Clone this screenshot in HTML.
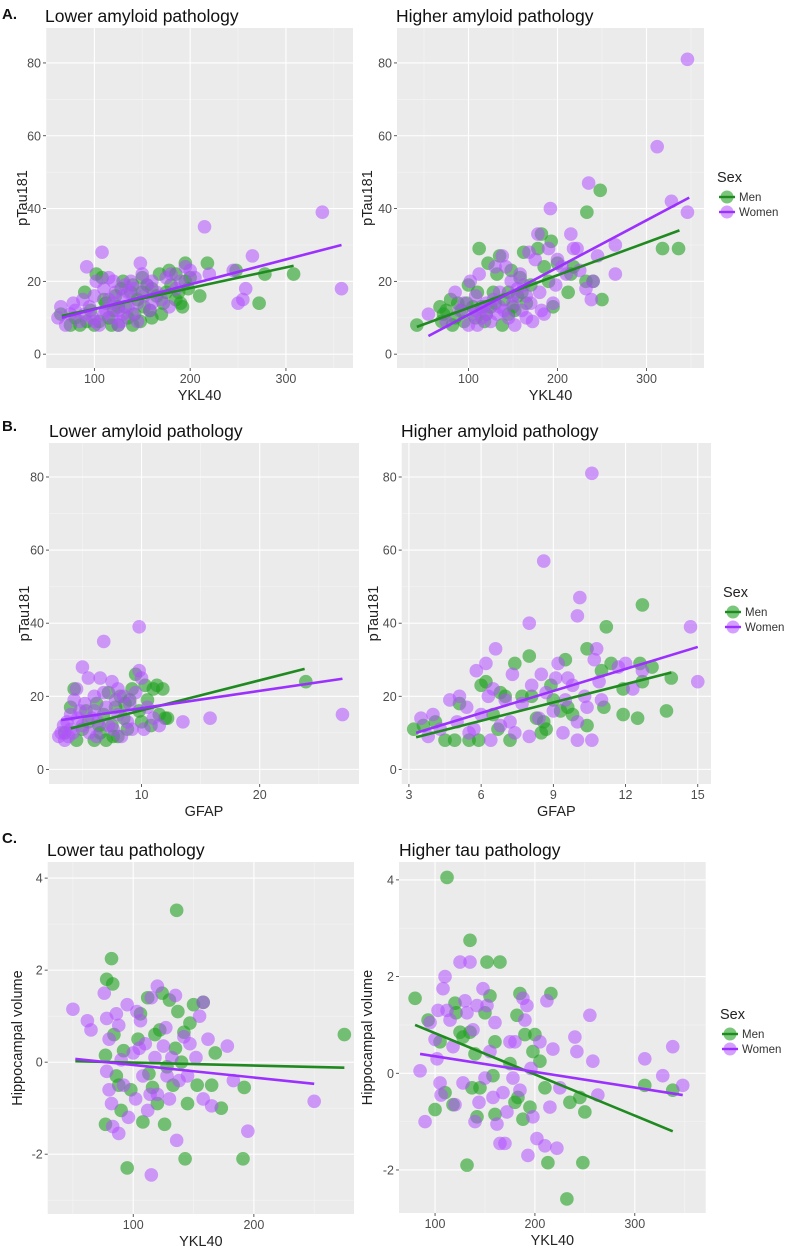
<!DOCTYPE html>
<html><head><meta charset="utf-8"><style>
html,body{margin:0;padding:0;background:#fff;}
svg{display:block;font-family:"Liberation Sans",Arial,sans-serif;}
</style></head><body>
<svg id="fig" width="789" height="1250" viewBox="0 0 789 1250" xmlns="http://www.w3.org/2000/svg">
<text x="2" y="19" font-size="15" font-weight="bold" fill="#111">A.</text>
<text x="2" y="431" font-size="15" font-weight="bold" fill="#111">B.</text>
<text x="2" y="843" font-size="15" font-weight="bold" fill="#111">C.</text>
</svg>
<script>
// ---------- DATA ----------
const a1Men=[[65,11],[75,8],[80,10],[85,8],[90,17],[92,9],[96,12],[100,8],[102,22],[105,9],[108,21],[112,14],[115,10],[118,8],[120,12],[122,16],[125,8],[128,18],[130,20],[132,13],[135,10],[138,17],[140,8],[142,11],[145,15],[148,9],[150,21],[152,13],[155,19],[158,12],[160,10],[165,16],[168,22],[170,11],[172,14],[175,17],[178,23],[180,19],[185,15],[188,17],[190,14],[192,13],[195,25],[198,18],[200,21],[210,16],[218,25],[248,23],[272,14],[278,22],[308,22],[110,15],[125,13],[140,19],[150,17],[160,18],[185,22],[195,20]];
const a1Women=[[62,10],[65,13],[70,8],[75,11],[78,14],[80,12],[85,9],[88,15],[92,24],[95,13],[98,10],[100,16],[102,20],[105,8],[108,28],[110,18],[112,12],[115,15],[118,10],[120,14],[122,17],[125,12],[128,9],[130,16],[132,19],[135,13],[138,20],[140,11],[142,18],[145,14],[148,25],[150,22],[152,16],[155,19],[158,12],[160,20],[165,17],[170,15],[175,21],[180,22],[185,18],[190,20],[195,24],[200,23],[205,21],[215,35],[220,22],[245,23],[250,14],[255,15],[258,18],[265,27],[338,39],[358,18],[110,11],[100,9],[90,11],[130,11],[145,9],[120,20],[135,17],[160,14],[178,13],[125,8],[115,21]];
const a1FitMen=[[66,10.5],[308,24.3]];
const a1FitWomen=[[66,10],[358,30]];

const a2Men=[[42,8],[68,13],[70,9],[72,11],[75,12],[80,15],[82,8],[85,10],[88,14],[92,12],[95,9],[98,14],[100,19],[105,13],[108,10],[110,17],[112,29],[115,13],[118,9],[120,11],[122,25],[125,13],[130,14],[132,22],[135,27],[138,8],[140,15],[145,17],[148,23],[150,13],[152,12],[155,16],[158,21],[160,17],[162,28],[165,14],[170,19],[178,29],[182,33],[185,24],[190,20],[193,31],[195,13],[200,25],[212,17],[215,22],[218,24],[232,20],[233,39],[240,20],[248,45],[250,15],[318,29],[336,29],[128,17],[145,11]];
const a2Women=[[55,11],[75,9],[85,17],[90,12],[95,14],[100,8],[102,20],[105,11],[108,16],[110,8],[112,22],[115,10],[118,13],[120,14],[125,9],[128,15],[130,24],[132,11],[135,17],[138,27],[140,12],[142,24],[145,10],[148,20],[150,14],[152,8],[155,18],[158,22],[160,12],[162,19],[165,16],[168,28],[170,14],[175,26],[178,33],[180,17],[182,12],[185,11],[190,29],[192,40],[195,14],[198,19],[200,26],[205,24],[210,22],[215,33],[218,29],[222,29],[225,23],[232,18],[235,47],[238,15],[240,20],[245,27],[265,30],[265,22],[312,57],[328,42],[346,39],[346,81],[120,11],[135,13],[150,16],[165,10],[172,9],[108,12]];
const a2FitMen=[[42,7.5],[337,34]];
const a2FitWomen=[[55,5],[348,43]];

const b1Men=[[3.5,10],[4,17],[4.3,22],[4.5,8],[5,11],[5.3,16],[5.5,13],[6,8],[6.2,18],[6.5,10],[6.8,15],[7,8],[7.2,21],[7.5,12],[7.8,17],[8,9],[8.2,20],[8.5,14],[8.8,11],[9,19],[9.2,22],[9.5,26],[9.8,16],[10,13],[10.3,23],[10.5,19],[10.8,12],[11,22],[11.3,23],[11.5,15],[11.8,22],[12,14],[12.2,14],[23.9,24],[6.4,12],[7.6,9],[8.6,18]];
const b1Women=[[3,9],[3.2,10],[3.4,12],[3.5,8],[3.7,13],[3.8,9],[4,15],[4,11],[4.2,10],[4.5,22],[4.6,14],[4.8,16],[5,28],[5,12],[5.2,18],[5.5,25],[5.6,10],[5.8,14],[6,20],[6,16],[6.3,13],[6.5,25],[6.8,35],[6.8,21],[7,17],[7.2,12],[7.5,24],[7.8,19],[8,15],[8,22],[8.3,9],[8.5,20],[8.8,13],[9,18],[9.2,11],[9.5,21],[9.8,27],[9.8,39],[10,25],[10.2,11],[10.5,17],[11,14],[11.5,12],[13.5,13],[15.8,14],[27,15],[4.3,19],[6.2,9],[7.6,11]];
const b1FitMen=[[4,11.2],[23.8,27.5]];
const b1FitWomen=[[3.2,13.5],[27,24.8]];

const b2Men=[[3.2,11],[3.6,12],[4.1,13],[4.5,8],[4.9,8],[5.1,18],[5.5,8],[5.9,8],[6,23],[6.2,24],[6.5,15],[6.8,21],[7,20],[7.2,8],[7.4,29],[7.7,20],[8,31],[8.1,20],[8.3,14],[8.5,10],[8.6,13],[8.7,11],[8.9,23],[9,19],[9.5,30],[9.6,17],[9.8,15],[10.4,33],[10.4,12],[11,27],[11.1,17],[11.2,39],[11.4,29],[11.9,15],[11.9,22],[12.5,14],[12.6,29],[12.7,45],[12.7,24],[13.1,28],[13.7,16],[13.9,25],[6.7,11],[9.3,16]];
const b2Women=[[3.5,14],[3.8,9],[4,15],[4.3,11],[4.7,19],[5,13],[5.1,20],[5.4,17],[5.5,10],[5.8,27],[6,15],[6.2,29],[6.3,20],[6.4,8],[6.5,22],[6.6,33],[6.8,12],[7,19],[7.3,26],[7.4,10],[7.7,18],[8,40],[8,9],[8.1,23],[8.4,14],[8.5,26],[8.6,57],[8.7,21],[9,16],[9.1,25],[9.2,29],[9.4,10],[9.5,19],[9.6,25],[9.8,23],[10,13],[10,42],[10.1,47],[10.3,20],[10.4,17],[10.6,81],[10.6,8],[10.7,30],[10.8,33],[10.9,24],[11,19],[11.7,28],[12,29],[12.3,22],[12.7,27],[14.7,39],[15,24],[10,8],[7.2,13],[5.7,11]];
const b2FitMen=[[3.3,8.8],[13.9,26.5]];
const b2FitWomen=[[3.3,10],[15,33.5]];

const c1Men=[[77,-1.35],[77,0.15],[78,1.8],[82,2.25],[83,1.7],[84,0.6],[86,-0.3],[88,-0.5],[90,-1.05],[92,0.25],[95,-2.3],[98,-0.6],[104,0.5],[106,1.05],[108,-1.3],[112,1.4],[113,-0.25],[116,-0.55],[118,0.6],[120,-0.9],[122,0.7],[124,1.5],[126,-1.35],[128,-0.1],[130,1.35],[133,-0.5],[135,0.3],[136,3.3],[137,1.1],[140,0],[142,0.65],[143,-2.1],[145,-0.9],[147,0.85],[150,1.25],[153,-0.5],[158,1.3],[165,-0.5],[168,0.2],[173,-1.0],[191,-2.1],[192,-0.55],[275,0.6]];
const c1Women=[[50,1.15],[62,0.9],[65,0.7],[76,1.5],[78,0.95],[78,-0.2],[80,0.5],[80,-0.6],[82,-0.9],[83,-1.4],[86,1.05],[88,0.8],[88,-1.55],[90,0.05],[92,-0.5],[95,1.25],[96,-1.2],[100,0.2],[102,-0.8],[103,1.1],[105,0.3],[106,0.9],[108,-0.3],[110,0.4],[112,-1.05],[114,-0.7],[115,1.4],[115,-2.45],[118,0.1],[120,1.65],[120,-0.7],[125,0.35],[127,0.75],[128,-0.3],[130,-0.8],[132,0.1],[135,1.45],[136,-1.7],[138,-0.4],[142,0.55],[145,-0.3],[147,0.4],[152,0.1],[155,1.0],[158,1.3],[158,-0.8],[162,0.5],[165,-0.95],[178,0.35],[183,-0.4],[195,-1.5],[250,-0.85]];
const c1FitMen=[[52,0.02],[275,-0.12]];
const c1FitWomen=[[52,0.07],[250,-0.47]];

const c2Men=[[80,1.55],[93,1.1],[100,-0.75],[105,0.65],[110,-0.4],[112,4.05],[118,-0.65],[120,1.45],[121,1.25],[125,0.85],[128,0.75],[132,-1.9],[135,2.75],[135,0.85],[137,-0.3],[140,0.4],[142,-0.9],[145,-0.3],[150,1.25],[152,2.3],[155,1.6],[158,-0.05],[160,-0.85],[165,2.3],[175,0.2],[180,-0.6],[182,1.2],[183,-0.5],[185,1.65],[188,-0.95],[190,0.8],[195,-0.7],[198,0.45],[200,0.8],[205,0.25],[210,-0.3],[213,-1.85],[216,1.65],[235,-0.6],[245,-0.5],[248,-1.85],[250,-0.8],[310,-0.25],[338,-0.35],[232,-2.6],[160,0.65]];
const c2Women=[[85,0.05],[90,-1.0],[95,1.05],[100,0.7],[102,0.3],[103,1.3],[105,-0.2],[106,-0.45],[108,1.75],[110,2.0],[112,1.3],[115,1.1],[118,0.55],[120,-0.65],[125,2.3],[128,-0.2],[130,1.5],[132,1.25],[135,2.3],[138,0.9],[140,-1.0],[142,1.4],[144,-0.6],[148,1.75],[150,-0.1],[152,1.4],[155,0.45],[158,-0.5],[160,1.05],[162,-1.05],[165,-1.45],[168,-0.4],[170,-1.45],[172,-0.8],[175,0.65],[178,-0.1],[180,0.65],[185,-0.35],[188,1.55],[190,1.1],[192,1.4],[193,-1.7],[196,0.1],[198,-0.9],[202,-1.35],[205,0.65],[210,-1.5],[212,1.5],[215,-0.7],[218,0.5],[222,-1.55],[225,-0.3],[240,0.75],[242,0.45],[255,1.2],[258,0.25],[263,-0.45],[310,0.3],[328,-0.05],[338,0.55],[348,-0.25]];
const c2FitMen=[[80,1.0],[338,-1.2]];
const c2FitWomen=[[85,0.4],[348,-0.45]];

const yTicksTau=[0,20,40,60,80];
const yTicksHip=[-2,0,2,4];
const xTicksYKL=[100,200,300];
const xTicksYKLc1=[100,200];
const xTicksGfap1=[10,20];
const xTicksGfap2=[3,6,9,12,15];

// ---------- DRAW ----------
const NS='http://www.w3.org/2000/svg';
const svg=document.getElementById('fig');
const MEN='rgba(34,160,34,0.6)', WOMEN='rgba(178,80,255,0.55)';
function mk(tag,attrs,parent){const e=document.createElementNS(NS,tag);for(const k in attrs)e.setAttribute(k,attrs[k]);(parent||svg).appendChild(e);return e;}

function panel(p){
  const g=mk('g',{});
  
  
  const sx=v=>p.px0+(v-p.xmin)/(p.xmax-p.xmin)*(p.px1-p.px0);
  const sy=v=>p.py1-(v-p.ymin)/(p.ymax-p.ymin)*(p.py1-p.py0);
  const bg=mk('rect',{x:p.px0,y:p.py0,width:p.px1-p.px0,height:p.py1-p.py0,fill:'#ebebeb'},g);
  
  
  // minor grid
  const step=(a)=>a.length>1?a[1]-a[0]:a[0];
  const xs=step(p.xt), ys=step(p.yt);
  for(let v=p.xt[0]-xs*3;v<=p.xmax+xs;v+=xs){const m=v+xs/2;if(m>p.xmin&&m<p.xmax)mk('line',{x1:sx(m),x2:sx(m),y1:p.py0,y2:p.py1,stroke:'#f5f5f5','stroke-width':0.6},g);}
  for(let v=p.yt[0]-ys*3;v<=p.ymax+ys;v+=ys){const m=v+ys/2;if(m>p.ymin&&m<p.ymax)mk('line',{y1:sy(m),y2:sy(m),x1:p.px0,x2:p.px1,stroke:'#f5f5f5','stroke-width':0.6},g);}
  p.xt.forEach(v=>{
    mk('line',{x1:sx(v),x2:sx(v),y1:p.py0,y2:p.py1,stroke:'#fff','stroke-width':1.1},g);
    mk('line',{x1:sx(v),x2:sx(v),y1:p.py1,y2:p.py1+3,stroke:'#333','stroke-width':0.8},g);
    const t=mk('text',{x:sx(v),y:p.py1+15,'font-size':12.5,'text-anchor':'middle',fill:'#4d4d4d'},g);t.textContent=v;
    
    
  });
  p.yt.forEach(v=>{
    mk('line',{y1:sy(v),y2:sy(v),x1:p.px0,x2:p.px1,stroke:'#fff','stroke-width':1.1},g);
    mk('line',{y1:sy(v),y2:sy(v),x1:p.px0-3,x2:p.px0,stroke:'#333','stroke-width':0.8},g);
    const t=mk('text',{x:p.px0-5,y:sy(v)+4.5,'font-size':12.5,'text-anchor':'end',fill:'#4d4d4d'},g);t.textContent=v;
    
    
  });
  const cp=mk('clipPath',{id:'cp'+p.name},g);
  mk('rect',{x:p.px0,y:p.py0,width:p.px1-p.px0,height:p.py1-p.py0},cp);
  const pg=mk('g',{'clip-path':'url(#cp'+p.name+')'},g);
  [[p.men,MEN,'point-men'],[p.women,WOMEN,'point-women']].forEach(([arr,col,nm])=>{
    arr.forEach(d=>{const c=mk('circle',{cx:sx(d[0]),cy:sy(d[1]),r:6.8,fill:col},pg);
      
      });
  });
  [[p.fm,'#1f8a1f','fit-line-men'],[p.fw,'#9b30ff','fit-line-women']].forEach(([f,col,nm])=>{
    const l=mk('line',{x1:sx(f[0][0]),y1:sy(f[0][1]),x2:sx(f[1][0]),y2:sy(f[1][1]),stroke:col,'stroke-width':2.6},pg);
    
    
  });
  const tt=mk('text',{x:p.tx,y:p.ty,'font-size':17.5,fill:'#111'},g);tt.textContent=p.title;
  
  
  const xl=mk('text',{x:(p.px0+p.px1)/2,y:p.py1+32,'font-size':14.5,'text-anchor':'middle',fill:'#222'},g);xl.textContent=p.xlab;
  
  
  const yx=p.ylx, yy=(p.py0+p.py1)/2;
  const yl=mk('text',{x:yx,y:yy,'font-size':14.5,'text-anchor':'middle',fill:'#222',transform:`rotate(-90 ${yx} ${yy})`},g);yl.textContent=p.ylab;
  
  
}
function legend(x,y){
  const g=mk('g',{});
  
  
  const t=mk('text',{x:x,y:y+5,'font-size':14.5,fill:'#222'},g);t.textContent='Sex';
  [['Men',MEN,'#1f8a1f',20],['Women',WOMEN,'#9b30ff',35]].forEach(([lab,c,lc,dy])=>{
    mk('circle',{cx:x+10,cy:y+dy,r:6.5,fill:c},g);
    mk('line',{x1:x+2,x2:x+18,y1:y+dy,y2:y+dy,stroke:lc,'stroke-width':2.4},g);
    const l=mk('text',{x:x+22,y:y+dy+4,'font-size':11.5,fill:'#333'},g);l.textContent=lab;
    
    
  });
}
panel({name:'panel-a-lower',px0:46,px1:353,py0:28,py1:368,xmin:49.5,xmax:370,ymin:-3.8,ymax:89.6,xt:xTicksYKL,yt:yTicksTau,men:a1Men,women:a1Women,fm:a1FitMen,fw:a1FitWomen,title:'Lower amyloid pathology',tx:45,ty:22,xlab:'YKL40',ylab:'pTau181',ylx:27});
panel({name:'panel-a-higher',px0:397,px1:704,py0:28,py1:368,xmin:19.7,xmax:364.6,ymin:-3.8,ymax:89.6,xt:xTicksYKL,yt:yTicksTau,men:a2Men,women:a2Women,fm:a2FitMen,fw:a2FitWomen,title:'Higher amyloid pathology',tx:396,ty:22,xlab:'YKL40',ylab:'pTau181',ylx:372});
legend(717,177);
panel({name:'panel-b-lower',px0:49,px1:359,py0:443,py1:784,xmin:2.17,xmax:28.4,ymin:-4.0,ymax:89.3,xt:xTicksGfap1,yt:yTicksTau,men:b1Men,women:b1Women,fm:b1FitMen,fw:b1FitWomen,title:'Lower amyloid pathology',tx:49,ty:437,xlab:'GFAP',ylab:'pTau181',ylx:29});
panel({name:'panel-b-higher',px0:401.7,px1:711,py0:443,py1:784,xmin:2.7,xmax:15.55,ymin:-4.0,ymax:89.3,xt:xTicksGfap2,yt:yTicksTau,men:b2Men,women:b2Women,fm:b2FitMen,fw:b2FitWomen,title:'Higher amyloid pathology',tx:401,ty:437,xlab:'GFAP',ylab:'pTau181',ylx:378});
legend(723,592);
panel({name:'panel-c-lower',px0:47.7,px1:354,py0:862,py1:1214,xmin:29.1,xmax:283,ymin:-3.3,ymax:4.35,xt:xTicksYKLc1,yt:yTicksHip,men:c1Men,women:c1Women,fm:c1FitMen,fw:c1FitWomen,title:'Lower tau pathology',tx:47,ty:856,xlab:'YKL40',ylab:'Hippocampal volume',ylx:22});
panel({name:'panel-c-higher',px0:399,px1:705.7,py0:862,py1:1213,xmin:63.9,xmax:371,ymin:-2.89,ymax:4.37,xt:xTicksYKL,yt:yTicksHip,men:c2Men,women:c2Women,fm:c2FitMen,fw:c2FitWomen,title:'Higher tau pathology',tx:399,ty:856,xlab:'YKL40',ylab:'Hippocampal volume',ylx:372});
legend(720,1014);
</script>
</body></html>
